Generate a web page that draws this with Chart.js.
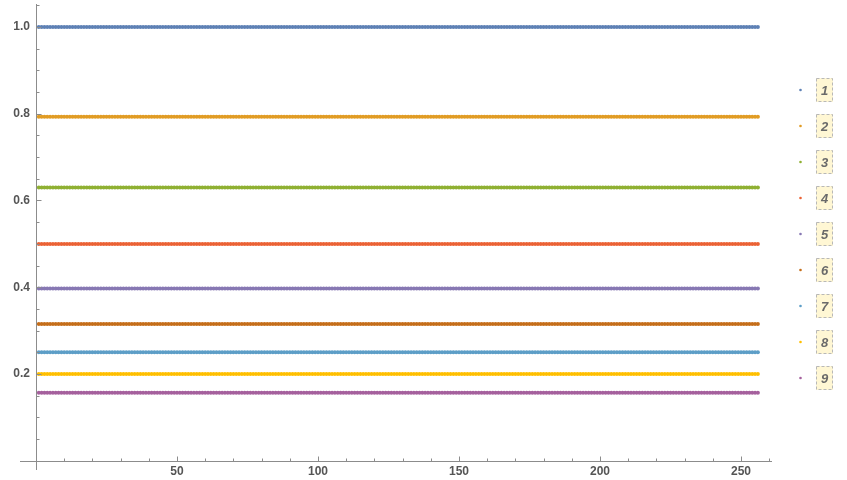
<!DOCTYPE html>
<html>
<head>
<meta charset="utf-8">
<script src="https://cdn.jsdelivr.net/npm/chart.js@4"></script>
<style>
  html, body { margin: 0; padding: 0; background: #fff; }
  #wrap { width: 847px; height: 480px; position: relative; }
</style>
</head>
<body>
<div id="wrap"><canvas id="chart"></canvas></div>
<script>
// series names and their (constant) levels
const seriesNames = ['1', '2', '3', '4', '5', '6', '7', '8', '9'];
const seriesLevels = [1.0, 0.793, 0.63, 0.5, 0.397, 0.315, 0.25, 0.2, 0.157];
const seriesColors = ['#5E81B5', '#E19C24', '#8FB032', '#EB6235', '#8778B3',
                      '#C56E1A', '#5D9EC7', '#FFBF00', '#A5609D'];
const pointCount = 256;
const xTicks = [50, 100, 150, 200, 250];
const yTicks = [0.2, 0.4, 0.6, 0.8, 1.0];

const datasets = seriesNames.map((name, i) => ({
  label: name,
  data: Array.from({ length: pointCount }, (_, k) => ({ x: k + 1, y: seriesLevels[i] })),
  backgroundColor: seriesColors[i],
  borderColor: seriesColors[i],
  pointRadius: 2,
  pointBorderWidth: 0,
  showLine: false
}));

const axisColor = '#8c8c8c';
const labelColor = '#555';

// draws Mathematica-like axes crossing at the origin, plus the legend on the right
const axesPlugin = {
  id: 'mmaAxes',
  afterDraw(chart) {
    const ctx = chart.ctx;
    const xs = chart.scales.x, ys = chart.scales.y;
    const area = chart.chartArea;
    const x0 = Math.round(xs.getPixelForValue(0)) + 0.5;
    const y0 = Math.round(ys.getPixelForValue(0)) + 0.5;
    ctx.save();
    ctx.strokeStyle = axisColor;
    ctx.lineWidth = 1;
    ctx.beginPath();
    ctx.moveTo(area.left, y0); ctx.lineTo(area.right, y0);
    ctx.moveTo(x0, area.top); ctx.lineTo(x0, area.bottom);
    // x ticks
    for (let v = 10; v <= 260; v += 10) {
      const px = Math.round(xs.getPixelForValue(v)) + 0.5;
      const len = v % 50 === 0 ? 5 : 3;
      ctx.moveTo(px, y0); ctx.lineTo(px, y0 - len);
    }
    // y ticks
    for (let k = 1; k <= 21; k++) {
      const v = k * 0.05;
      const py = Math.round(ys.getPixelForValue(v)) + 0.5;
      const len = k % 4 === 0 ? 5 : 3;
      ctx.moveTo(x0, py); ctx.lineTo(x0 + len, py);
    }
    ctx.stroke();

    ctx.fillStyle = labelColor;
    ctx.font = 'bold 12px "Liberation Sans", Arial, sans-serif';
    ctx.textAlign = 'center';
    ctx.textBaseline = 'middle';
    xTicks.forEach(v => ctx.fillText(String(v), xs.getPixelForValue(v), 472));
    ctx.textAlign = 'right';
    yTicks.forEach(v => ctx.fillText(v.toFixed(1), 30, ys.getPixelForValue(v)));

    // legend
    chart.data.datasets.forEach((ds, i) => {
      const cy = 90 + i * 36;
      ctx.fillStyle = ds.backgroundColor;
      ctx.beginPath();
      ctx.arc(800.5, cy, 1.3, 0, Math.PI * 2);
      ctx.fill();
      ctx.fillStyle = '#fff7d4';
      ctx.fillRect(816, cy - 12, 17, 24);
      ctx.strokeStyle = '#b8b8b8';
      ctx.setLineDash([3, 2]);
      ctx.strokeRect(816.5, cy - 11.5, 16, 23);
      ctx.setLineDash([]);
      ctx.fillStyle = '#6a6a6a';
      ctx.font = 'italic bold 13px "Liberation Sans", Arial, sans-serif';
      ctx.textAlign = 'center';
      ctx.fillText(ds.label, 824.5, cy + 1);
    });
    ctx.restore();
  }
};

new Chart(document.getElementById('chart').getContext('2d'), {
  type: 'scatter',
  data: { datasets: datasets },
  options: {
    responsive: true,
    maintainAspectRatio: false,
    animation: false,
    layout: { padding: { left: 20, right: 75, top: 4, bottom: 10 } },
    plugins: { legend: { display: false }, tooltip: { enabled: false } },
    scales: {
      x: { type: 'linear', min: -5.67, max: 261.0, display: false },
      y: { type: 'linear', min: -0.0213, max: 1.053, display: false }
    }
  },
  plugins: [axesPlugin]
});
</script>
</body>
</html>
